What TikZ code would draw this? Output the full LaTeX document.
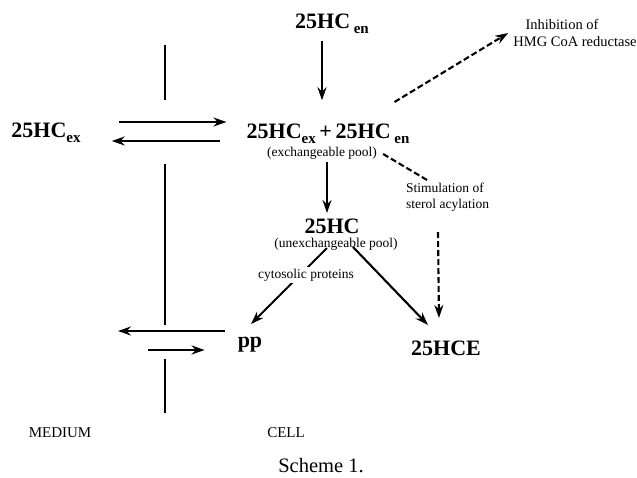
\documentclass[tikz,border=0pt]{standalone}
\usepackage{fontspec}
\setmainfont{Liberation Serif}
\usetikzlibrary{arrows.meta,calc}
\newcommand{\sbx}[1]{\raisebox{-5pt}{\fontsize{15}{15}\selectfont #1}}

\begin{document}
\begin{tikzpicture}[x=1pt, y=-1pt, >={Stealth[length=13pt,width=9pt]},
  big/.style={font=\fontsize{22}{24}\selectfont\bfseries, inner sep=0pt, anchor=base},
  sm/.style={font=\fontsize{13.5}{16}\selectfont, inner sep=0pt, anchor=base},
  ar/.style={->, line width=2.1pt},
  da/.style={line width=2.1pt, dash pattern=on 6pt off 3pt},
  mem/.style={line width=2.1pt}]
\useasboundingbox (0,0) rectangle (637,477);
% membrane
\draw[mem] (165,45) -- (165,100);
\draw[mem] (165,164) -- (165,325);
\draw[mem] (165,359) -- (165,413);
% pools
\node[big] (en) at (332,28) {25HC\,\sbx{en}};
\node[big] (pool) at (328,138) {25HC\sbx{ex}\,+\,25HC\,\sbx{en}};
\node[sm] (poolnote) at (322,156) {(exchangeable pool)};
\node[big] (unex) at (332,233) {25HC};
\node[sm] (unexnote) at (336,247) {(unexchangeable pool)};
\node[big] (exout) at (46,137) {25HC\sbx{ex}};
\node[big] (pp) at (250,347) {pp};
\node[big] (hce) at (446,355) {25HCE};
% effects
\node[sm, font=\fontsize{14.5}{16}\selectfont] (inh1) at (562,29) {Inhibition of};
\node[sm, font=\fontsize{14.5}{16}\selectfont] (inh2) at (575,46) {HMG CoA reductase};
\node[sm, anchor=north west, align=left] (stim) at (406,183) {Stimulation of\\ sterol acylation};
\node[sm, font=\fontsize{15}{16}\selectfont] (medium) at (60,437) {MEDIUM};
\node[sm, font=\fontsize{15}{16}\selectfont] (cell) at (286,437) {CELL};
\node[sm, font=\fontsize{20.5}{22}\selectfont] (scheme) at (321,472) {Scheme 1.};
\coordinate (medout) at (118,331);
\coordinate (medin) at (148,350);
% exchange across membrane
\draw[ar] ($(exout.base east)+(38,-15)$) -- ($(pool.base west)+(-20,-16)$);
\draw[ar] ($(pool.base west)+(-26,3)$) -- ($(exout.base east)+(31,4)$);
\draw[ar] ($(pp.base west)+(-13,-16)$) -- (medout);
\draw[ar] (medin) -- ($(pp.base west)+(-33,3)$);
% conversions
\draw[ar] ($(en.south)+(-10,8)$) -- ($(pool.north)+(-6,-23)$);
\draw[ar] ($(poolnote.base)+(5,6)$) -- ($(unex.base)+(-5,-20)$);
\draw[ar] ($(unexnote.base)+(-9,1)$) -- ($(pp.base)+(1,-23)$);
\node[sm, fill=white, inner sep=2pt] (cyto) at (306,278) {cytosolic proteins};
\draw[ar] ($(unexnote.base)+(17,0)$) -- ($(hce.base west)+(17,-30)$);
% regulation
\draw[da, ->] ($(pool.base east)+(-15,-36)$) -- ($(inh2.base west)+(-5,-13)$);
\draw[da] ($(poolnote.base east)+(6,-2)$) -- ($(stim.north west)+(21,-3)$);
\draw[da, ->] ($(stim.north west)+(32,49)$) -- ($(hce.base west)+(28,-37)$);
\end{tikzpicture}
\end{document}
